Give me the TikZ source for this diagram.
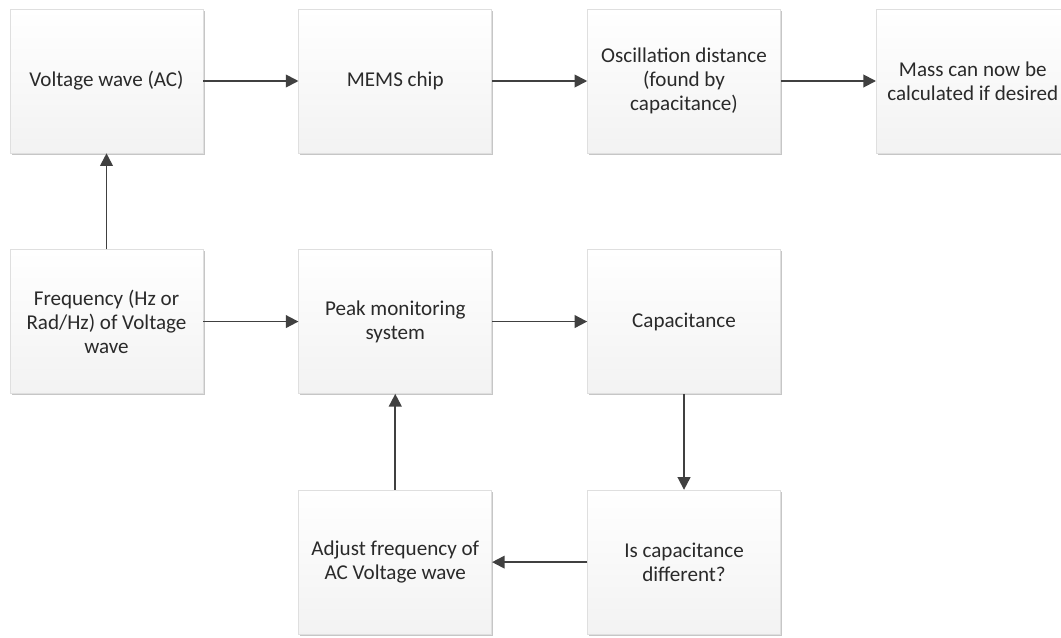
\documentclass[tikz,border=0pt]{standalone}
\usepackage{fontspec}
\setmainfont{Carlito}
\usetikzlibrary{positioning,shadows,arrows.meta}
\definecolor{boxtext}{HTML}{2A2A2A}
\definecolor{arrowgray}{HTML}{404040}
\tikzset{
	flowbox/.style={draw=gray!25, top color=white, bottom color=gray!10,
		minimum width=4.825cm, minimum height=3.6cm, inner sep=2pt,
		align=center, text=boxtext, font=\fontsize{15}{17}\selectfont,
		drop shadow={shadow xshift=1.2pt, shadow yshift=-1.2pt, opacity=0.45}},
	flow/.style={->, line width=1.3pt, draw=arrowgray}
}
\begin{document}
\begin{tikzpicture}[>={Triangle[length=9pt,width=9pt]}, node distance=2.4cm and 2.38cm]

	\useasboundingbox (0,0) rectangle (26.525,-15.925);

	% top row
	\node[flowbox] (voltage) at (2.6625,-2.025) {Voltage wave (AC)};
	\node[flowbox, right=of voltage] (mems) {MEMS chip};
	\node[flowbox, right=of mems] (oscillation) {Oscillation distance\\(found by\\capacitance)};
	\node[flowbox, right=of oscillation] (mass) {Mass can now be\\calculated if desired};

	% middle row
	\node[flowbox, below=of voltage] (frequency) {Frequency (Hz or\\Rad/Hz) of Voltage\\wave};
	\node[flowbox, right=of frequency] (peak) {Peak monitoring\\system};
	\node[flowbox, right=of peak] (capacitance) {Capacitance};

	% bottom row
	\node[flowbox, below=of peak] (adjust) {Adjust frequency of\\AC Voltage wave};
	\node[flowbox, below=of capacitance] (different) {Is capacitance\\different?};

	% arrows
	\draw[flow] (voltage) -- (mems);
	\draw[flow] (mems) -- (oscillation);
	\draw[flow] (oscillation) -- (mass);
	\draw[flow] (frequency) -- (voltage);
	\draw[flow] (frequency) -- (peak);
	\draw[flow] (peak) -- (capacitance);
	\draw[flow] (capacitance) -- (different);
	\draw[flow] (different) -- (adjust);
	\draw[flow] (adjust) -- (peak);

\end{tikzpicture}
\end{document}
